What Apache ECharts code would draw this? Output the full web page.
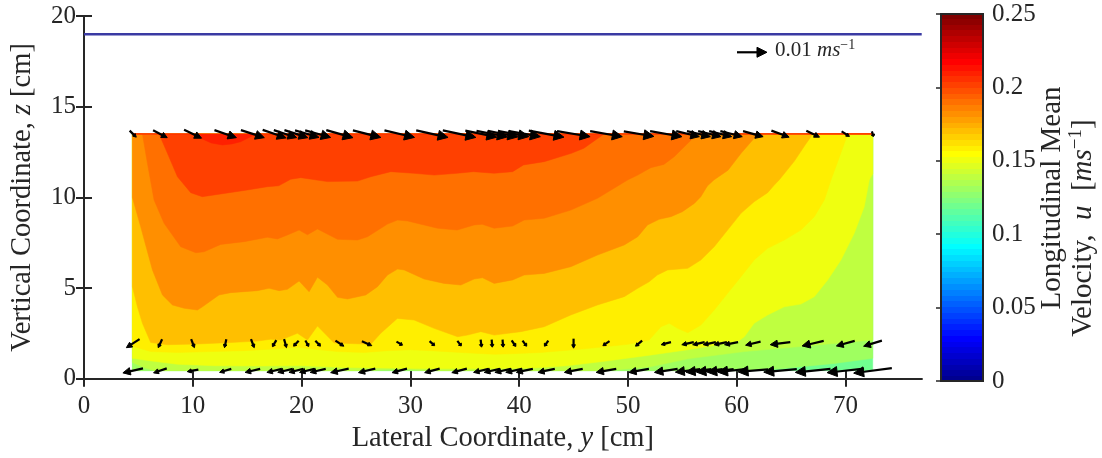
<!DOCTYPE html>
<html>
<head>
<meta charset="utf-8">
<script src="https://cdn.jsdelivr.net/npm/echarts@6/dist/echarts.min.js"></script>
<style>
  html, body { margin: 0; padding: 0; background: #fff; }
  #chart { width: 1102px; height: 458px; }
</style>
</head>
<body>
<div id="chart"></div>
<script>
// ---- Data --------------------------------------------------------------
// Contour levels of the longitudinal mean velocity u [m/s]
const LEVELS = [0.12, 0.13, 0.14, 0.15, 0.16, 0.17, 0.18, 0.19, 0.20, 0.21];

// Iso-velocity lines as [y, z] in cm; velocity is at or above the level above each line
const ISO_012 = [[4.45,0.45],[72.5,0.45]];
const ISO_013 = [[4.45,0.45],[60,0.45],[64,0.55],[69,0.85],[72.5,1.13]];
const ISO_014 = [[4.45,0.9],[5.5,0.62],[6.5,0.45],[26,0.45],[28,0.52],[30,0.5],[32,0.45],[48,0.45],[52.1,0.67],[55.5,1.1],[60.7,1.5],[65.3,1.75],[72.5,2.14]];
const ISO_015 = [[4.45,1.13],[6,1.0],[8.6,0.8],[12,0.72],[16,0.7],[20,0.72],[23.9,0.62],[27,0.6],[32,0.55],[37,0.55],[41.4,0.6],[44.4,0.72],[47.5,0.94],[52,1.3],[55.5,1.6],[58.5,1.9],[60.2,2.1],[60.7,2.32],[61.6,3.06],[62.84,3.52],[64.37,3.97],[65.9,4.12],[67.13,4.53],[68.36,5.45],[69.58,6.55],[70.8,8.02],[71.72,9.49],[72.18,10.96],[72.5,11.3]];
const ISO_016 = [[4.45,1.8],[6.13,1.5],[8.59,1.45],[11.65,1.5],[14.71,1.55],[17.78,1.65],[19.62,1.75],[20.85,1.65],[23.3,1.5],[25.75,1.45],[27.9,1.55],[30.04,1.6],[31.88,1.55],[34.64,1.45],[37.7,1.35],[39.2,1.38],[42,1.45],[46,1.65],[50,1.9],[51.95,2.14],[53.03,2.87],[53.8,3.06],[54.56,2.78],[55.5,2.54],[56.7,2.96],[57.93,3.79],[59.16,4.71],[60.39,5.63],[61.6,6.55],[62.84,7.19],[64.37,7.65],[65.9,8.2],[67.13,8.94],[68.05,9.86],[68.66,10.96],[69.3,12.0],[70.2,13.5],[72.5,13.5]];
const ISO_017 = [[4.45,5.08],[4.91,3.97],[5.37,3.06],[6.13,2.0],[7.67,1.88],[10.43,1.92],[13.49,2.0],[15.94,2.08],[17.17,2.18],[18.09,2.14],[19.62,2.51],[20.54,2.14],[21.46,2.91],[22.99,1.98],[26.36,1.9],[27.28,2.51],[28.8,3.33],[30.34,3.24],[32.18,2.78],[34.34,2.32],[35.26,2.41],[36.48,2.6],[37.7,2.41],[40.16,2.6],[42.3,2.87],[44.75,3.52],[47.2,4.07],[49.66,4.53],[50.9,4.99],[51.95,5.35],[52.7,5.72],[53.65,6.0],[55.5,6.09],[56.7,6.55],[57.93,7.28],[59.16,8.2],[60.39,9.12],[61.6,9.76],[62.84,10.26],[63.45,10.68],[63.9,10.96],[65.3,12.0],[66.3,12.9],[67.0,13.5],[72.5,13.5]];
const ISO_018 = [[4.45,10.0],[5.21,8.38],[6.29,6.0],[7.21,4.62],[8.13,4.07],[9.2,3.89],[10.43,3.79],[10.89,3.97],[12.41,4.62],[13.49,4.75],[15.94,4.86],[17.01,4.99],[17.93,4.86],[18.7,4.93],[19.77,5.39],[20.69,4.8],[21.46,5.6],[22.38,5.17],[23.3,4.49],[24.22,4.4],[25.9,4.62],[26.98,5.08],[27.9,5.72],[28.82,6.05],[29.43,6.0],[31.26,5.5],[33.1,5.26],[34.64,5.17],[35.86,5.5],[36.63,5.57],[37.7,5.26],[39.4,5.45],[40.46,5.72],[42.3,5.81],[44.75,6.18],[47.2,6.82],[49.66,7.38],[50.9,7.83],[51.8,8.48],[52.87,8.79],[53.95,8.94],[55.0,9.21],[56.1,9.67],[56.7,10.04],[57.3,10.63],[57.9,10.96],[59.2,11.5],[60.4,12.43],[61.6,13.26],[62.7,13.5],[72.5,13.5]];
const ISO_019 = [[4.45,13.5],[5.37,13.5],[5.83,11.88],[6.44,9.86],[7.36,8.57],[8.89,7.28],[10.27,6.95],[11.03,7.0],[12.57,7.41],[14.71,7.56],[16.86,7.8],[17.78,7.71],[18.7,7.93],[19.77,8.2],[20.54,7.94],[21.46,8.26],[23.3,7.69],[25.14,7.65],[26.06,7.83],[27.9,8.53],[28.82,8.75],[29.74,8.7],[31.26,8.48],[32.5,8.3],[34.3,8.2],[35.86,8.48],[36.6,8.52],[37.7,8.3],[39.4,8.42],[40.46,8.75],[42.3,8.85],[44.75,9.3],[47.2,9.95],[49.97,10.96],[50.9,11.23],[52.1,11.64],[53.3,11.82],[54.25,12.24],[55.5,12.98],[56.4,13.5],[72.5,13.5]];
const ISO_020 = [[4.45,13.5],[6.9,13.5],[7.67,12.43],[8.59,11.14],[9.81,10.26],[10.87,10.04],[12.57,10.19],[15.02,10.41],[16.86,10.59],[17.9,10.64],[19.0,11.0],[19.93,11.09],[22.38,10.87],[25.14,10.9],[26.36,11.14],[28.2,11.42],[30.3,11.33],[32.2,11.23],[34.3,11.33],[35.8,11.42],[37.7,11.33],[39.4,11.42],[40.4,11.79],[42.3,11.97],[44.8,12.43],[45.95,12.71],[47.8,13.5],[72.5,13.5]];
const ISO_021 = [[4.45,13.5],[9.8,13.5],[10.73,13.26],[11.7,13.0],[12.72,12.89],[13.6,12.95],[14.4,13.07],[15.63,13.44],[16.0,13.5],[72.5,13.5]];
const ISO_LINES = [ISO_012, ISO_013, ISO_014, ISO_015, ISO_016, ISO_017, ISO_018, ISO_019, ISO_020, ISO_021];

// Measured section: lateral and vertical extent [cm]
const Y_RANGE = [4.45, 72.5];
const Z_RANGE = [0.45, 13.5];

// Velocity profiles: lateral stations [cm] and measurement heights [cm]
const Y_PROFILES = [4.5,7,10,13,15.5,17.5,18.5,19.5,20.5,21.5,23.5,26,29,32,34.5,36.5,37.5,38.5,39.5,40.5,42.5,45,48,51,53.5,55.5,56.5,57.5,58.5,59.5,61.5,64,67,70,72.5];
const Z_TOP = 13.5, Z_MID = 1.95, Z_BOT = 0.45;
// Secondary velocities: lateral v and vertical w [m/s]
const V_TOP = [0.0022,0.0047,0.0058,0.0073,0.0078,0.0078,0.0076,0.0078,0.0080,0.0085,0.0089,0.0093,0.0100,0.0106,0.0110,0.0105,0.0103,0.0100,0.0100,0.0105,0.0117,0.0110,0.0107,0.0100,0.0106,0.0077,0.0078,0.0076,0.0075,0.0073,0.0067,0.0059,0.0044,0.0026,0.0006];
const W_TOP = [-0.0013,-0.0015,-0.0017,-0.0015,-0.0015,-0.0016,-0.0015,-0.0015,-0.0014,-0.0014,-0.0015,-0.0014,-0.0014,-0.0014,-0.0014,-0.0013,-0.0012,-0.0012,-0.0011,-0.0011,-0.0013,-0.0011,-0.0011,-0.0010,-0.0011,-0.0011,-0.0011,-0.0011,-0.0011,-0.0011,-0.0011,-0.0013,-0.0013,-0.0010,-0.0010];
const V_MID = [-0.0044,-0.0013,0.0011,-0.0006,0.0011,-0.0013,0.0008,-0.0017,0.0011,0.0017,0.0028,0.0033,0.0020,0.0017,0.0013,0.0003,0.0002,0.0002,0.0014,0.0014,-0.0013,0.0000,-0.0022,-0.0022,-0.0033,-0.0040,-0.0040,-0.0042,-0.0043,-0.0045,-0.0050,-0.0067,-0.0072,-0.0061,-0.0061];
const W_MID = [-0.0017,-0.0017,-0.0017,-0.0017,-0.0017,-0.0013,-0.0017,-0.0011,-0.0012,-0.0011,-0.0011,-0.0009,-0.0007,-0.0009,-0.0010,-0.0015,-0.0015,-0.0015,-0.0012,-0.0011,-0.0011,-0.0019,-0.0009,-0.0011,-0.0005,-0.0005,-0.0005,-0.0005,-0.0005,-0.0005,-0.0007,-0.0005,-0.0010,-0.0010,-0.0011];
const V_BOT = [-0.0067,-0.0044,-0.0037,-0.0039,-0.0050,-0.0050,-0.0050,-0.0048,-0.0050,-0.0052,-0.0060,-0.0056,-0.0050,-0.0050,-0.0050,-0.0050,-0.0052,-0.0053,-0.0053,-0.0055,-0.0056,-0.0061,-0.0067,-0.0067,-0.0077,-0.0083,-0.0085,-0.0087,-0.0088,-0.0090,-0.0100,-0.0110,-0.0117,-0.0123,-0.0127];
const W_BOT = [-0.0009,-0.0009,-0.0004,-0.0007,-0.0007,-0.0007,-0.0007,-0.0007,-0.0007,-0.0007,-0.0008,-0.0008,-0.0008,-0.0008,-0.0008,-0.0007,-0.0007,-0.0007,-0.0007,-0.0007,-0.0007,-0.0007,-0.0007,-0.0007,-0.0007,-0.0006,-0.0006,-0.0006,-0.0006,-0.0006,-0.0005,-0.0006,-0.0007,-0.0008,-0.0010];

// Reference vector and water surface
const REF_VECTOR = [[61.4, 18.0, 0.01, 0]];
const SURFACE = [[0, 19], [77, 19]];

// Tick values
const X_TICKS = [0, 10, 20, 30, 40, 50, 60, 70];
const Z_TICKS = [0, 5, 10, 15, 20];
const U_TICKS = [0, 0.05, 0.1, 0.15, 0.2, 0.25];
const U_MAX = 0.25;

// ---- Styling helpers ----------------------------------------------------
const FONT = "'Liberation Serif', 'Times New Roman', serif";
const INK = '#262626';
const QUIVER_SCALE = 276; // cm of arrow per m/s

// MATLAB-style jet colormap, 64 entries
function jet(x) {
  const c = v => Math.max(0, Math.min(1, v));
  const r = c(Math.min(4 * x - 1.5, -4 * x + 4.5));
  const g = c(Math.min(4 * x - 0.5, -4 * x + 3.5));
  const b = c(Math.min(4 * x + 0.5, -4 * x + 2.5));
  return 'rgb(' + Math.round(r * 255) + ',' + Math.round(g * 255) + ',' + Math.round(b * 255) + ')';
}
function levelColor(level) {
  const row = Math.floor(level / U_MAX * 64 + 1e-9) + 1;
  return jet(row / 64);
}
const jetStops = [];
for (let j = 1; j <= 64; j++) {
  jetStops.push({ offset: (j - 1) / 64, color: jet(j / 64) });
  jetStops.push({ offset: j / 64, color: jet(j / 64) });
}

function arrowShape(api, y, z, v, w) {
  const t = api.coord([y - v * QUIVER_SCALE / 2, z - w * QUIVER_SCALE / 2]);
  const h = api.coord([y + v * QUIVER_SCALE / 2, z + w * QUIVER_SCALE / 2]);
  const dx = h[0] - t[0], dy = h[1] - t[1];
  const L = Math.hypot(dx, dy);
  if (L < 0.3) return [];
  const ux = dx / L, uy = dy / L;
  const hl = Math.min(0.36 * L, 10), hw = Math.max(hl * 0.5, 1.8);
  const bx = h[0] - ux * hl, by = h[1] - uy * hl;
  return [
    { type: 'line', shape: { x1: t[0], y1: t[1], x2: bx + ux * 1.5, y2: by + uy * 1.5 },
      style: { stroke: '#000', lineWidth: 2.2 } },
    { type: 'polygon', shape: { points: [[h[0], h[1]], [bx - uy * hw, by + ux * hw], [bx + uy * hw, by - ux * hw]] },
      style: { fill: '#000', stroke: '#000', lineWidth: 1, lineJoin: 'round' } }
  ];
}

const arrowData = [];
[[Z_TOP, V_TOP, W_TOP], [Z_MID, V_MID, W_MID], [Z_BOT, V_BOT, W_BOT]].forEach(([z, V, W]) => {
  Y_PROFILES.forEach((y, i) => arrowData.push([y, z, V[i], W[i]]));
});

const TITLE_SIZE = 28.5;
const richBase = { fontFamily: FONT, fontSize: TITLE_SIZE, color: INK };
const richItalic = { fontFamily: FONT, fontSize: TITLE_SIZE, color: INK, fontStyle: 'italic' };

const chart = echarts.init(document.getElementById('chart'));
chart.setOption({
  animation: false,
  backgroundColor: '#fff',
  grid: [
    { left: 83.3, right: 180.3, top: 16, bottom: 79.2 },
    { left: 941, top: 14, width: 42, height: 367 }
  ],
  xAxis: [
    {
      gridIndex: 0, type: 'value', min: 0, max: 77, position: 'bottom',
      name: '{r|Lateral Coordinate, }{i|y}{r| [cm]}', nameLocation: 'middle', nameGap: 44,
      nameTextStyle: { rich: { r: richBase, i: richItalic } },
      axisLine: { lineStyle: { color: INK, width: 2 } },
      axisTick: { inside: true, length: 8, lineStyle: { color: INK, width: 2 }, customValues: X_TICKS },
      axisLabel: { fontFamily: FONT, fontSize: 25, color: INK, margin: 15, customValues: X_TICKS },
      splitLine: { show: false }
    },
    {
      gridIndex: 0, type: 'value', min: 0, max: 77, position: 'top',
      axisLine: { lineStyle: { color: INK, width: 2 } },
      axisTick: { inside: true, length: 8, lineStyle: { color: INK, width: 2 }, customValues: X_TICKS },
      axisLabel: { show: false },
      splitLine: { show: false }
    },
    { gridIndex: 1, type: 'value', min: 0, max: 1, show: false }
  ],
  yAxis: [
    {
      gridIndex: 0, type: 'value', min: 0, max: 20, interval: 5, position: 'left',
      name: '{r|Vertical Coordinate, }{i|z}{r| [cm]}', nameLocation: 'middle', nameGap: 47, nameRotate: 90,
      nameTextStyle: { rich: { r: richBase, i: richItalic } },
      axisLine: { lineStyle: { color: INK, width: 2 } },
      axisTick: { inside: true, length: 8, lineStyle: { color: INK, width: 2 } },
      axisLabel: { fontFamily: FONT, fontSize: 25, color: INK, margin: 8, customValues: Z_TICKS },
      splitLine: { show: false }
    },
    {
      gridIndex: 0, type: 'value', min: 0, max: 20, interval: 5, position: 'right',
      axisLine: { lineStyle: { color: INK, width: 2 } },
      axisTick: { inside: true, length: 8, lineStyle: { color: INK, width: 2 } },
      axisLabel: { show: false },
      splitLine: { show: false }
    },
    {
      gridIndex: 1, type: 'value', min: 0, max: U_MAX, interval: 0.05, position: 'right',
      axisLine: { show: true, lineStyle: { color: INK, width: 2 } },
      axisTick: { inside: true, length: 5, lineStyle: { color: INK, width: 1.5 } },
      axisLabel: { fontFamily: FONT, fontSize: 25, color: INK, margin: 9, customValues: U_TICKS },
      splitLine: { show: false }
    }
  ],
  graphic: [
    {
      type: 'text', x: 1052, y: 198, rotation: Math.PI / 2, silent: true,
      style: { text: 'Longitudinal Mean', fontFamily: FONT, fontSize: 29, fill: INK, align: 'center', verticalAlign: 'middle' }
    },
    {
      type: 'text', x: 1083, y: 228, rotation: Math.PI / 2, silent: true,
      style: {
        text: '{r|Velocity,  }{i|u}{r|  [}{i|ms}{s|−1}{r|]}',
        align: 'center', verticalAlign: 'middle',
        rich: {
          r: { fontFamily: FONT, fontSize: 29, fill: INK, lineHeight: 32 },
          i: { fontFamily: FONT, fontSize: 29, fill: INK, fontStyle: 'italic', lineHeight: 32 },
          s: { fontFamily: FONT, fontSize: 19, fill: INK, lineHeight: 19, verticalAlign: 'top' }
        }
      }
    }
  ],
  series: [
    {
      // filled iso-velocity bands
      type: 'custom', xAxisIndex: 0, yAxisIndex: 0, silent: true, clip: true,
      data: LEVELS.map((lv, i) => [i]),
      encode: { x: 0 },
      renderItem: function (params, api) {
        const i = api.value(0);
        const line = ISO_LINES[i];
        const pts = line.map(p => api.coord([
          Math.min(Math.max(p[0], Y_RANGE[0]), Y_RANGE[1]),
          Math.min(Math.max(p[1], Z_RANGE[0]), Z_RANGE[1])
        ]));
        pts.push(api.coord([Y_RANGE[1], Z_RANGE[1]]));
        pts.push(api.coord([Y_RANGE[0], Z_RANGE[1]]));
        const col = levelColor(LEVELS[i]);
        return { type: 'polygon', shape: { points: pts }, style: { fill: col, stroke: col, lineWidth: 0.5 } };
      }
    },
    {
      // water surface
      type: 'line', xAxisIndex: 0, yAxisIndex: 0, data: SURFACE, symbol: 'none', silent: true,
      lineStyle: { color: '#3a3aa3', width: 2.5 }
    },
    {
      // secondary velocity vectors
      type: 'custom', xAxisIndex: 0, yAxisIndex: 0, silent: true, clip: false,
      data: arrowData,
      encode: { x: 0, y: 1 },
      renderItem: function (params, api) {
        return { type: 'group', children: arrowShape(api, api.value(0), api.value(1), api.value(2), api.value(3)) };
      }
    },
    {
      // reference vector
      type: 'custom', xAxisIndex: 0, yAxisIndex: 0, silent: true, clip: false,
      data: REF_VECTOR,
      encode: { x: 0, y: 1 },
      renderItem: function (params, api) {
        const y = api.value(0), z = api.value(1), v = api.value(2), w = api.value(3);
        const children = arrowShape(api, y, z, v, w);
        const h = api.coord([y + v * QUIVER_SCALE / 2, z]);
        children.push({
          type: 'text', x: h[0] + 8, y: h[1] - 2,
          style: {
            text: '{n|' + v + ' }{i|ms}{s|−1}',
            verticalAlign: 'middle', align: 'left',
            rich: {
              n: { fontFamily: FONT, fontSize: 21, fill: INK, lineHeight: 24 },
              i: { fontFamily: FONT, fontSize: 21, fill: INK, fontStyle: 'italic', lineHeight: 24 },
              s: { fontFamily: FONT, fontSize: 14, fill: INK, lineHeight: 14, verticalAlign: 'top' }
            }
          }
        });
        return { type: 'group', children: children };
      }
    },
    {
      // colour bar
      type: 'custom', xAxisIndex: 2, yAxisIndex: 2, silent: true,
      data: [[0, 0]],
      renderItem: function (params, api) {
        const p0 = api.coord([0, 0]);
        const p1 = api.coord([1, U_MAX]);
        return {
          type: 'rect',
          shape: { x: p0[0], y: p1[1], width: p1[0] - p0[0], height: p0[1] - p1[1] },
          style: {
            fill: new echarts.graphic.LinearGradient(0, 1, 0, 0, jetStops),
            stroke: INK, lineWidth: 2
          }
        };
      }
    }
  ]
});
</script>
</body>
</html>
